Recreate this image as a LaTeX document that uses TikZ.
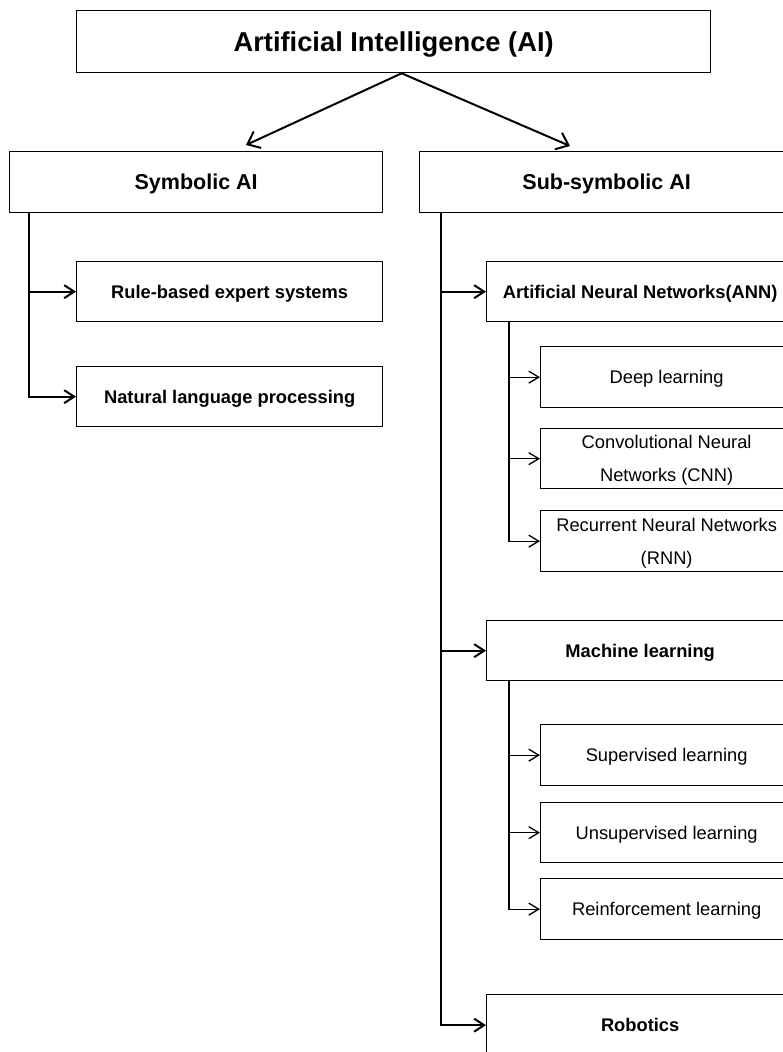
\documentclass[tikz,border=0pt]{standalone}
\usepackage{fontspec}
\setmainfont{Liberation Sans}
\usetikzlibrary{arrows.meta}
\tikzset{
  box/.style={draw, line width=1.3pt, fill=white, anchor=north west, inner sep=0pt, align=center, text depth=0pt},
  title/.style={font=\bfseries\fontsize{27.3}{32}\selectfont},
  lvlone/.style={font=\bfseries\fontsize{21.5}{26}\selectfont},
  lvltwo/.style={font=\bfseries\fontsize{18.3}{22}\selectfont},
  lvlthree/.style={font=\fontsize{18.3}{33}\selectfont},
  mainarrow/.style={line width=2pt, -{Straight Barb[length=11pt,width=18pt,line width=2pt]}},
  trunk/.style={line width=2pt, -{Straight Barb[length=10pt,width=13pt,line width=2pt]}},
  branch/.style={line width=1.3pt, -{Straight Barb[length=10pt,width=12pt,line width=1.3pt]}}
}
\begin{document}
\begin{tikzpicture}[x=1pt,y=-1pt]
\useasboundingbox (0,0) rectangle (783,1052);
\clip (0,0) rectangle (783,1052);
\fill[white] (0,0) rectangle (783,1052);

% top
\node[box, title, minimum width=634pt, minimum height=62pt] (ai) at (76,10) {Artificial Intelligence (AI)};
\node[box, lvlone, minimum width=373pt, minimum height=61pt] (sym) at (9,151) {Symbolic AI};
\node[box, lvlone, minimum width=374pt, minimum height=61pt] (sub) at (419,151) {Sub-symbolic AI};
\coordinate (symin) at (246,145);
\coordinate (subin) at (570,146);
\draw[mainarrow] ([xshift=8pt]ai.south) -- (symin);
\draw[mainarrow] ([xshift=8pt]ai.south) -- (subin);

% symbolic branch
\node[box, lvltwo, minimum width=306pt, minimum height=60pt] (rule) at (76,261) {Rule-based expert systems};
\node[box, lvltwo, minimum width=306pt, minimum height=60pt] (nlp) at (76,366) {Natural language processing};
\coordinate (symtrunk) at (29,212);
\draw[trunk] (symtrunk) |- (rule.west);
\draw[trunk] (symtrunk) |- (nlp.west);

% sub-symbolic branch
\node[box, lvltwo, minimum width=307pt, minimum height=60pt] (ann) at (486,261) {Artificial Neural Networks(ANN)};
\node[box, lvlthree, minimum width=252pt, minimum height=61pt] (deep) at (540,346) {Deep learning};
\node[box, lvlthree, minimum width=252pt, minimum height=60pt] (cnn) at (540,428) {Convolutional Neural\\Networks (CNN)};
\node[box, lvlthree, minimum width=252pt, minimum height=61pt] (rnn) at (540,510) {Recurrent Neural Networks\\(RNN)};
\node[box, lvltwo, minimum width=307pt, minimum height=60pt] (ml) at (486,620) {Machine learning};
\node[box, lvlthree, minimum width=252pt, minimum height=61pt] (sup) at (540,724) {Supervised learning};
\node[box, lvlthree, minimum width=252pt, minimum height=60pt] (unsup) at (540,802) {Unsupervised learning};
\node[box, lvlthree, minimum width=252pt, minimum height=61pt] (reinf) at (540,878) {Reinforcement learning};
\node[box, lvltwo, minimum width=307pt, minimum height=61pt] (rob) at (486,994) {Robotics};

\coordinate (subtrunk) at (441,212);
\draw[trunk] (subtrunk) |- (ann.west);
\draw[trunk] (subtrunk) |- (ml.west);
\draw[trunk] (subtrunk) |- (rob.west);

\coordinate (anntrunk) at (509,321);
\draw[branch] (anntrunk) |- (deep.west);
\draw[branch] (anntrunk) |- (cnn.west);
\draw[branch] (anntrunk) |- (rnn.west);

\coordinate (mltrunk) at (509,680);
\draw[branch] (mltrunk) |- (sup.west);
\draw[branch] (mltrunk) |- (unsup.west);
\draw[branch] (mltrunk) |- (reinf.west);
\end{tikzpicture}
\end{document}
